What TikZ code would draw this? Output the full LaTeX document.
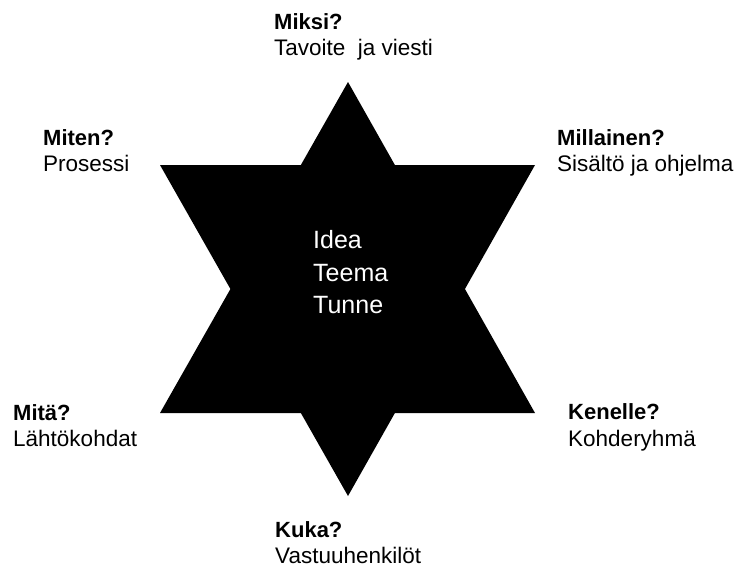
\documentclass[tikz,border=0pt]{standalone}
\usepackage{fontspec}
\setmainfont{Liberation Sans}
\begin{document}
\begin{tikzpicture}[x=1pt,y=-1pt,
  lbl/.style={anchor=base west,inner sep=0pt,font=\fontsize{22}{26}\selectfont\bfseries},
  sub/.style={anchor=base west,inner sep=0pt,font=\fontsize{22.5}{26}\selectfont},
  mid/.style={anchor=base west,inner sep=0pt,text=white,font=\fontsize{25}{32}\selectfont}]
\useasboundingbox[fill=white] (0,0) rectangle (736,571);
% star of two triangles
\coordinate (up) at (348,82);
\coordinate (upL) at (160,413);
\coordinate (upR) at (535,413);
\coordinate (dn) at (348,496);
\coordinate (dnL) at (160,165);
\coordinate (dnR) at (535,165);
\fill[black] (up) -- (upR) -- (upL) -- cycle;
\fill[black] (dn) -- (dnL) -- (dnR) -- cycle;
% centre text
\node[mid] (idea) at (313,248) {Idea};
\node[mid] (teema) at (313,281) {Teema};
\node[mid] (tunne) at (313,313) {Tunne};
% labels
\node[lbl] (miksi) at (274,29) {Miksi?};
\node[sub] (miksiS) at (274,55) {Tavoite\ \ ja viesti};
\node[lbl] (miten) at (43,145) {Miten?};
\node[sub] (mitenS) at (43,171) {Prosessi};
\node[lbl] (millainen) at (557,145) {Millainen?};
\node[sub] (millainenS) at (557,171) {Sisältö ja ohjelma};
\node[lbl] (mita) at (13,420) {Mitä?};
\node[sub] (mitaS) at (13,446) {Lähtökohdat};
\node[lbl] (kenelle) at (568,419) {Kenelle?};
\node[sub] (kenelleS) at (568,446) {Kohderyhmä};
\node[lbl] (kuka) at (275,537) {Kuka?};
\node[sub] (kukaS) at (275,563) {Vastuuhenkilöt};
\end{tikzpicture}
\end{document}
